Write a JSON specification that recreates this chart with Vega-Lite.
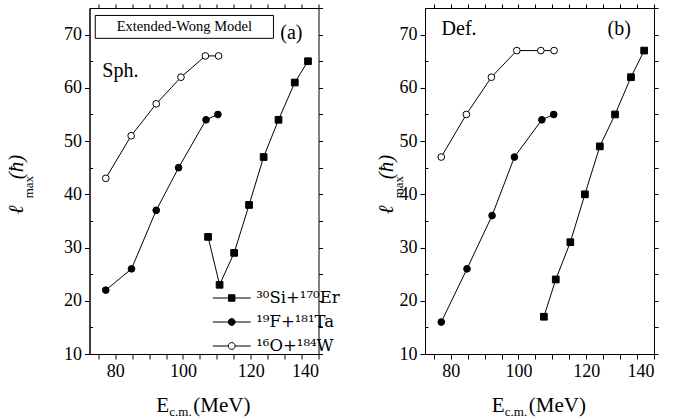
{
  "$schema": "https://vega.github.io/schema/vega-lite/v6.json",
  "padding": {"left": 5.5, "top": 3, "right": 0, "bottom": 0},
  "spacing": 106.5,
  "bounds": "flush",
  "config": {
    "font": "Liberation Serif",
    "view": {"stroke": "black", "strokeWidth": 1},
    "axis": {"labelFont": "Liberation Serif", "labelFontSize": 18, "labelColor": "black", "tickColor": "black", "domainColor": "black", "grid": false, "labelPadding": 3, "tickSize": 5},
    "legend": {"labelFont": "DejaVu Serif"}
  },
  "datasets": {
    "d": [
      {"panel": "a", "series": "¹⁶O+¹⁸⁴W", "E": 77.2, "l": 43},
      {"panel": "a", "series": "¹⁶O+¹⁸⁴W", "E": 84.7, "l": 51},
      {"panel": "a", "series": "¹⁶O+¹⁸⁴W", "E": 92.1, "l": 57},
      {"panel": "a", "series": "¹⁶O+¹⁸⁴W", "E": 99.4, "l": 62},
      {"panel": "a", "series": "¹⁶O+¹⁸⁴W", "E": 106.6, "l": 66},
      {"panel": "a", "series": "¹⁶O+¹⁸⁴W", "E": 110.5, "l": 66},
      {"panel": "a", "series": "¹⁹F+¹⁸¹Ta", "E": 77.2, "l": 22},
      {"panel": "a", "series": "¹⁹F+¹⁸¹Ta", "E": 84.8, "l": 26},
      {"panel": "a", "series": "¹⁹F+¹⁸¹Ta", "E": 92.1, "l": 37},
      {"panel": "a", "series": "¹⁹F+¹⁸¹Ta", "E": 98.7, "l": 45},
      {"panel": "a", "series": "¹⁹F+¹⁸¹Ta", "E": 106.8, "l": 54},
      {"panel": "a", "series": "¹⁹F+¹⁸¹Ta", "E": 110.3, "l": 55},
      {"panel": "a", "series": "³⁰Si+¹⁷⁰Er", "E": 107.4, "l": 32},
      {"panel": "a", "series": "³⁰Si+¹⁷⁰Er", "E": 110.8, "l": 23},
      {"panel": "a", "series": "³⁰Si+¹⁷⁰Er", "E": 115.1, "l": 29},
      {"panel": "a", "series": "³⁰Si+¹⁷⁰Er", "E": 119.5, "l": 38},
      {"panel": "a", "series": "³⁰Si+¹⁷⁰Er", "E": 123.8, "l": 47},
      {"panel": "a", "series": "³⁰Si+¹⁷⁰Er", "E": 128.2, "l": 54},
      {"panel": "a", "series": "³⁰Si+¹⁷⁰Er", "E": 133.0, "l": 61},
      {"panel": "a", "series": "³⁰Si+¹⁷⁰Er", "E": 136.9, "l": 65},
      {"panel": "b", "series": "¹⁶O+¹⁸⁴W", "E": 77.2, "l": 47},
      {"panel": "b", "series": "¹⁶O+¹⁸⁴W", "E": 84.6, "l": 55},
      {"panel": "b", "series": "¹⁶O+¹⁸⁴W", "E": 92.0, "l": 62},
      {"panel": "b", "series": "¹⁶O+¹⁸⁴W", "E": 99.5, "l": 67},
      {"panel": "b", "series": "¹⁶O+¹⁸⁴W", "E": 106.6, "l": 67},
      {"panel": "b", "series": "¹⁶O+¹⁸⁴W", "E": 110.5, "l": 67},
      {"panel": "b", "series": "¹⁹F+¹⁸¹Ta", "E": 77.2, "l": 16},
      {"panel": "b", "series": "¹⁹F+¹⁸¹Ta", "E": 84.8, "l": 26},
      {"panel": "b", "series": "¹⁹F+¹⁸¹Ta", "E": 92.2, "l": 36},
      {"panel": "b", "series": "¹⁹F+¹⁸¹Ta", "E": 98.8, "l": 47},
      {"panel": "b", "series": "¹⁹F+¹⁸¹Ta", "E": 106.9, "l": 54},
      {"panel": "b", "series": "¹⁹F+¹⁸¹Ta", "E": 110.4, "l": 55},
      {"panel": "b", "series": "³⁰Si+¹⁷⁰Er", "E": 107.5, "l": 17},
      {"panel": "b", "series": "³⁰Si+¹⁷⁰Er", "E": 111.0, "l": 24},
      {"panel": "b", "series": "³⁰Si+¹⁷⁰Er", "E": 115.3, "l": 31},
      {"panel": "b", "series": "³⁰Si+¹⁷⁰Er", "E": 119.6, "l": 40},
      {"panel": "b", "series": "³⁰Si+¹⁷⁰Er", "E": 124.0, "l": 49},
      {"panel": "b", "series": "³⁰Si+¹⁷⁰Er", "E": 128.5, "l": 55},
      {"panel": "b", "series": "³⁰Si+¹⁷⁰Er", "E": 133.2, "l": 62},
      {"panel": "b", "series": "³⁰Si+¹⁷⁰Er", "E": 137.1, "l": 67}
    ]
  },
  "resolve": {"scale": {"x": "independent", "y": "independent", "shape": "independent", "fill": "independent"}, "legend": {"shape": "independent", "fill": "independent"}},
  "hconcat": [
    {
      "width": 229, "height": 346,
      "resolve": {"axis": {"x": "independent", "y": "independent"}, "scale": {"shape": "independent", "fill": "independent"}, "legend": {"shape": "independent", "fill": "independent"}},
      "layer": [
        {
          "data": {"name": "d"},
          "transform": [{"filter": "datum.panel === 'a'"}],
          "mark": {"type": "line", "color": "black", "strokeWidth": 1},
          "encoding": {
            "x": {"field": "E", "type": "quantitative", "scale": {"domain": [72.4, 140], "nice": false, "zero": false},
                  "axis": {"orient": "bottom", "title": null, "labelFont": "Liberation Serif", "values": [75, 80, 85, 90, 95, 100, 105, 110, 115, 120, 125, 130, 135, 140], "labelExpr": "datum.value % 10 === 0 ? datum.label : ''"}},
            "y": {"field": "l", "type": "quantitative", "scale": {"domain": [10, 75], "nice": false, "zero": false},
                  "axis": {"orient": "left", "title": null, "labelFont": "Liberation Serif", "values": [10, 15, 20, 25, 30, 35, 40, 45, 50, 55, 60, 65, 70, 75], "labelExpr": "datum.value % 10 === 0 ? datum.label : ''", "tickSize": {"condition": {"test": "datum.value % 10 !== 0", "value": -3}, "value": 5}}},
            "detail": {"field": "series"}
          }
        },
        {
          "data": {"name": "d"},
          "transform": [{"filter": "datum.panel === 'a'"}],
          "mark": {"type": "point", "filled": true, "stroke": "black", "strokeWidth": 1, "size": 45, "opacity": 1},
          "encoding": {
            "x": {"field": "E", "type": "quantitative", "scale": {"domain": [72.4, 140], "nice": false, "zero": false},
                  "axis": {"orient": "top", "title": null, "labels": false, "domain": false, "tickSize": 4, "values": [75, 80, 85, 90, 95, 100, 105, 110, 115, 120, 125, 130, 135, 140]}},
            "y": {"field": "l", "type": "quantitative", "scale": {"domain": [10, 75], "nice": false, "zero": false},
                  "axis": {"orient": "right", "title": null, "labels": false, "domain": false, "tickSize": 4, "values": [10, 15, 20, 25, 30, 35, 40, 45, 50, 55, 60, 65, 70, 75]}},
            "shape": {"field": "series", "type": "nominal",
                      "scale": {"domain": ["³⁰Si+¹⁷⁰Er", "¹⁹F+¹⁸¹Ta", "¹⁶O+¹⁸⁴W"], "range": ["square", "circle", "circle"]}, "legend": null},
            "fill": {"field": "series", "type": "nominal",
                     "scale": {"domain": ["³⁰Si+¹⁷⁰Er", "¹⁹F+¹⁸¹Ta", "¹⁶O+¹⁸⁴W"], "range": ["black", "black", "white"]}, "legend": null}
          }
        },
        {
          "data": {"name": "d"},
          "transform": [{"filter": "false"}],
          "mark": {"type": "point", "filled": false, "stroke": "black", "strokeWidth": 1, "opacity": 1},
          "encoding": {
            "shape": {"field": "series", "type": "nominal",
                      "scale": {"domain": ["³⁰Si+¹⁷⁰Er", "¹⁹F+¹⁸¹Ta", "¹⁶O+¹⁸⁴W"],
                                "range": ["M-1,0H-0.17M0.17,0H1M-0.17,-0.17H0.17V0.17H-0.17Z",
                                          "M-1,0H-0.18M0.18,0H1M-0.18,0A0.18,0.18,0,1,0,0.18,0A0.18,0.18,0,1,0,-0.18,0Z",
                                          "M-1,0H-0.18M0.18,0H1M-0.18,0A0.18,0.18,0,1,0,0.18,0A0.18,0.18,0,1,0,-0.18,0Z"]},
                      "legend": {"title": null, "orient": "none", "legendX": 122.7, "legendY": 280, "padding": 0, "labelFont": "DejaVu Serif", "labelFontSize": 16.5, "labelColor": "black", "labelOffset": 5, "symbolSize": 1444, "clipHeight": 20, "rowPadding": 4, "symbolStrokeWidth": 1, "symbolStrokeColor": "black", "symbolOpacity": 1,
                                 "encode": {"symbols": {"update": {"stroke": {"value": "black"}, "strokeWidth": {"value": 1}, "strokeOpacity": {"value": 1}}}}}},
            "fill": {"field": "series", "type": "nominal",
                     "scale": {"domain": ["³⁰Si+¹⁷⁰Er", "¹⁹F+¹⁸¹Ta", "¹⁶O+¹⁸⁴W"], "range": ["black", "black", "white"]},
                     "legend": {"title": null, "orient": "none", "legendX": 122.7, "legendY": 280, "padding": 0, "labelFont": "DejaVu Serif", "labelFontSize": 16.5, "labelColor": "black", "labelOffset": 5, "symbolSize": 1444, "clipHeight": 20, "rowPadding": 4, "symbolStrokeWidth": 1, "symbolStrokeColor": "black", "symbolOpacity": 1,
                                 "encode": {"symbols": {"update": {"stroke": {"value": "black"}, "strokeWidth": {"value": 1}, "strokeOpacity": {"value": 1}}}}}}
          }
        },
        {
          "data": {"values": [{}]},
          "mark": {"type": "rect", "fill": "white", "fillOpacity": 0, "stroke": "black", "strokeWidth": 1},
          "encoding": {
            "x": {"datum": 74.1, "type": "quantitative", "scale": {"domain": [72.4, 140], "nice": false, "zero": false}, "axis": null},
            "x2": {"datum": 126.7},
            "y": {"datum": 73.6, "type": "quantitative", "scale": {"domain": [10, 75], "nice": false, "zero": false}, "axis": null},
            "y2": {"datum": 69.3}
          }
        },
        {
          "data": {"values": [{}]},
          "mark": {"type": "text", "font": "Liberation Serif", "fontSize": 14.5, "fill": "black", "color": "black", "align": "center", "baseline": "middle"},
          "encoding": {
            "x": {"datum": 100.4, "type": "quantitative", "scale": {"domain": [72.4, 140], "nice": false, "zero": false}, "axis": null},
            "y": {"datum": 71.4, "type": "quantitative", "scale": {"domain": [10, 75], "nice": false, "zero": false}, "axis": null},
            "text": {"value": "Extended-Wong Model"}
          }
        },
        {
          "data": {"values": [{}]},
          "mark": {"type": "text", "font": "Liberation Serif", "fontSize": 20, "fill": "black", "color": "black", "align": "center", "baseline": "middle"},
          "encoding": {
            "x": {"datum": 132.0, "type": "quantitative", "scale": {"domain": [72.4, 140], "nice": false, "zero": false}, "axis": null},
            "y": {"datum": 70.25, "type": "quantitative", "scale": {"domain": [10, 75], "nice": false, "zero": false}, "axis": null},
            "text": {"value": "(a)"}
          }
        },
        {
          "data": {"values": [{}]},
          "mark": {"type": "text", "font": "Liberation Serif", "fontSize": 20, "fill": "black", "color": "black", "align": "center", "baseline": "middle"},
          "encoding": {
            "x": {"datum": 81.5, "type": "quantitative", "scale": {"domain": [72.4, 140], "nice": false, "zero": false}, "axis": null},
            "y": {"datum": 63.1, "type": "quantitative", "scale": {"domain": [10, 75], "nice": false, "zero": false}, "axis": null},
            "text": {"value": "Sph."}
          }
        },
        {
          "data": {"values": [{}]},
          "mark": {"type": "text", "font": "Liberation Serif", "fontSize": 21, "fill": "black", "color": "black", "align": "left", "baseline": "alphabetic"},
          "encoding": {
            "x": {"datum": 92.1, "type": "quantitative", "scale": {"domain": [72.4, 140], "nice": false, "zero": false}, "axis": null},
            "y": {"datum": -0.95, "type": "quantitative", "scale": {"domain": [10, 75], "nice": false, "zero": false}, "axis": null},
            "text": {"value": "E"}
          }
        },
        {
          "data": {"values": [{}]},
          "mark": {"type": "text", "font": "Liberation Serif", "fontSize": 13, "fill": "black", "color": "black", "align": "left", "baseline": "alphabetic"},
          "encoding": {
            "x": {"datum": 95.96, "type": "quantitative", "scale": {"domain": [72.4, 140], "nice": false, "zero": false}, "axis": null},
            "y": {"datum": -1.7, "type": "quantitative", "scale": {"domain": [10, 75], "nice": false, "zero": false}, "axis": null},
            "text": {"value": "c.m."}
          }
        },
        {
          "data": {"values": [{}]},
          "mark": {"type": "text", "font": "Liberation Serif", "fontSize": 21, "fill": "black", "color": "black", "align": "left", "baseline": "alphabetic"},
          "encoding": {
            "x": {"datum": 103.06, "type": "quantitative", "scale": {"domain": [72.4, 140], "nice": false, "zero": false}, "axis": null},
            "y": {"datum": -0.95, "type": "quantitative", "scale": {"domain": [10, 75], "nice": false, "zero": false}, "axis": null},
            "text": {"value": "(MeV)"}
          }
        },
        {
          "data": {"values": [{}]},
          "mark": {"type": "text", "font": "Liberation Serif", "fontSize": 21, "fontStyle": "italic", "fill": "black", "color": "black", "align": "left", "baseline": "alphabetic", "angle": 270},
          "encoding": {
            "x": {"datum": 52.8, "type": "quantitative", "scale": {"domain": [72.4, 140], "nice": false, "zero": false}, "axis": null},
            "y": {"datum": 36.24, "type": "quantitative", "scale": {"domain": [10, 75], "nice": false, "zero": false}, "axis": null},
            "text": {"value": "ℓ"}
          }
        },
        {
          "data": {"values": [{}]},
          "mark": {"type": "text", "font": "Liberation Serif", "fontSize": 13, "fill": "black", "color": "black", "align": "left", "baseline": "alphabetic", "angle": 270},
          "encoding": {
            "x": {"datum": 55.8, "type": "quantitative", "scale": {"domain": [72.4, 140], "nice": false, "zero": false}, "axis": null},
            "y": {"datum": 39.25, "type": "quantitative", "scale": {"domain": [10, 75], "nice": false, "zero": false}, "axis": null},
            "text": {"value": "max"}
          }
        },
        {
          "data": {"values": [{}]},
          "mark": {"type": "text", "font": "Liberation Serif", "fontSize": 21, "fontStyle": "italic", "fill": "black", "color": "black", "align": "left", "baseline": "alphabetic", "angle": 270},
          "encoding": {
            "x": {"datum": 52.8, "type": "quantitative", "scale": {"domain": [72.4, 140], "nice": false, "zero": false}, "axis": null},
            "y": {"datum": 42.82, "type": "quantitative", "scale": {"domain": [10, 75], "nice": false, "zero": false}, "axis": null},
            "text": {"value": "(ħ)"}
          }
        }
      ]
    },
    {
      "width": 229, "height": 346,
      "resolve": {"axis": {"x": "independent", "y": "independent"}},
      "layer": [
        {
          "data": {"name": "d"},
          "transform": [{"filter": "datum.panel === 'b'"}],
          "mark": {"type": "line", "color": "black", "strokeWidth": 1},
          "encoding": {
            "x": {"field": "E", "type": "quantitative", "scale": {"domain": [72.4, 140], "nice": false, "zero": false},
                  "axis": {"orient": "bottom", "title": null, "labelFont": "Liberation Serif", "values": [75, 80, 85, 90, 95, 100, 105, 110, 115, 120, 125, 130, 135, 140], "labelExpr": "datum.value % 10 === 0 ? datum.label : ''"}},
            "y": {"field": "l", "type": "quantitative", "scale": {"domain": [10, 75], "nice": false, "zero": false},
                  "axis": {"orient": "left", "title": null, "labelFont": "Liberation Serif", "values": [10, 15, 20, 25, 30, 35, 40, 45, 50, 55, 60, 65, 70, 75], "labelExpr": "datum.value % 10 === 0 ? datum.label : ''", "tickSize": {"condition": {"test": "datum.value % 10 !== 0", "value": -3}, "value": 5}}},
            "detail": {"field": "series"}
          }
        },
        {
          "data": {"name": "d"},
          "transform": [{"filter": "datum.panel === 'b'"}],
          "mark": {"type": "point", "filled": true, "stroke": "black", "strokeWidth": 1, "size": 45, "opacity": 1},
          "encoding": {
            "x": {"field": "E", "type": "quantitative", "scale": {"domain": [72.4, 140], "nice": false, "zero": false},
                  "axis": {"orient": "top", "title": null, "labels": false, "domain": false, "tickSize": 4, "values": [75, 80, 85, 90, 95, 100, 105, 110, 115, 120, 125, 130, 135, 140]}},
            "y": {"field": "l", "type": "quantitative", "scale": {"domain": [10, 75], "nice": false, "zero": false},
                  "axis": {"orient": "right", "title": null, "labels": false, "domain": false, "tickSize": 4, "values": [10, 15, 20, 25, 30, 35, 40, 45, 50, 55, 60, 65, 70, 75]}},
            "shape": {"field": "series", "type": "nominal",
                      "scale": {"domain": ["³⁰Si+¹⁷⁰Er", "¹⁹F+¹⁸¹Ta", "¹⁶O+¹⁸⁴W"], "range": ["square", "circle", "circle"]}, "legend": null},
            "fill": {"field": "series", "type": "nominal",
                     "scale": {"domain": ["³⁰Si+¹⁷⁰Er", "¹⁹F+¹⁸¹Ta", "¹⁶O+¹⁸⁴W"], "range": ["black", "black", "white"]}, "legend": null}
          }
        },
        {
          "data": {"values": [{}]},
          "mark": {"type": "text", "font": "Liberation Serif", "fontSize": 20, "fill": "black", "color": "black", "align": "center", "baseline": "middle"},
          "encoding": {
            "x": {"datum": 82.45, "type": "quantitative", "scale": {"domain": [72.4, 140], "nice": false, "zero": false}, "axis": null},
            "y": {"datum": 71.0, "type": "quantitative", "scale": {"domain": [10, 75], "nice": false, "zero": false}, "axis": null},
            "text": {"value": "Def."}
          }
        },
        {
          "data": {"values": [{}]},
          "mark": {"type": "text", "font": "Liberation Serif", "fontSize": 20, "fill": "black", "color": "black", "align": "center", "baseline": "middle"},
          "encoding": {
            "x": {"datum": 129.75, "type": "quantitative", "scale": {"domain": [72.4, 140], "nice": false, "zero": false}, "axis": null},
            "y": {"datum": 71.0, "type": "quantitative", "scale": {"domain": [10, 75], "nice": false, "zero": false}, "axis": null},
            "text": {"value": "(b)"}
          }
        },
        {
          "data": {"values": [{}]},
          "mark": {"type": "text", "font": "Liberation Serif", "fontSize": 21, "fill": "black", "color": "black", "align": "left", "baseline": "alphabetic"},
          "encoding": {
            "x": {"datum": 92.1, "type": "quantitative", "scale": {"domain": [72.4, 140], "nice": false, "zero": false}, "axis": null},
            "y": {"datum": -0.95, "type": "quantitative", "scale": {"domain": [10, 75], "nice": false, "zero": false}, "axis": null},
            "text": {"value": "E"}
          }
        },
        {
          "data": {"values": [{}]},
          "mark": {"type": "text", "font": "Liberation Serif", "fontSize": 13, "fill": "black", "color": "black", "align": "left", "baseline": "alphabetic"},
          "encoding": {
            "x": {"datum": 95.96, "type": "quantitative", "scale": {"domain": [72.4, 140], "nice": false, "zero": false}, "axis": null},
            "y": {"datum": -1.7, "type": "quantitative", "scale": {"domain": [10, 75], "nice": false, "zero": false}, "axis": null},
            "text": {"value": "c.m."}
          }
        },
        {
          "data": {"values": [{}]},
          "mark": {"type": "text", "font": "Liberation Serif", "fontSize": 21, "fill": "black", "color": "black", "align": "left", "baseline": "alphabetic"},
          "encoding": {
            "x": {"datum": 103.06, "type": "quantitative", "scale": {"domain": [72.4, 140], "nice": false, "zero": false}, "axis": null},
            "y": {"datum": -0.95, "type": "quantitative", "scale": {"domain": [10, 75], "nice": false, "zero": false}, "axis": null},
            "text": {"value": "(MeV)"}
          }
        },
        {
          "data": {"values": [{}]},
          "mark": {"type": "text", "font": "Liberation Serif", "fontSize": 21, "fontStyle": "italic", "fill": "black", "color": "black", "align": "left", "baseline": "alphabetic", "angle": 270},
          "encoding": {
            "x": {"datum": 63.0, "type": "quantitative", "scale": {"domain": [72.4, 140], "nice": false, "zero": false}, "axis": null},
            "y": {"datum": 36.24, "type": "quantitative", "scale": {"domain": [10, 75], "nice": false, "zero": false}, "axis": null},
            "text": {"value": "ℓ"}
          }
        },
        {
          "data": {"values": [{}]},
          "mark": {"type": "text", "font": "Liberation Serif", "fontSize": 13, "fill": "black", "color": "black", "align": "left", "baseline": "alphabetic", "angle": 270},
          "encoding": {
            "x": {"datum": 66.0, "type": "quantitative", "scale": {"domain": [72.4, 140], "nice": false, "zero": false}, "axis": null},
            "y": {"datum": 39.25, "type": "quantitative", "scale": {"domain": [10, 75], "nice": false, "zero": false}, "axis": null},
            "text": {"value": "max"}
          }
        },
        {
          "data": {"values": [{}]},
          "mark": {"type": "text", "font": "Liberation Serif", "fontSize": 21, "fontStyle": "italic", "fill": "black", "color": "black", "align": "left", "baseline": "alphabetic", "angle": 270},
          "encoding": {
            "x": {"datum": 63.0, "type": "quantitative", "scale": {"domain": [72.4, 140], "nice": false, "zero": false}, "axis": null},
            "y": {"datum": 42.82, "type": "quantitative", "scale": {"domain": [10, 75], "nice": false, "zero": false}, "axis": null},
            "text": {"value": "(ħ)"}
          }
        }
      ]
    }
  ]
}
